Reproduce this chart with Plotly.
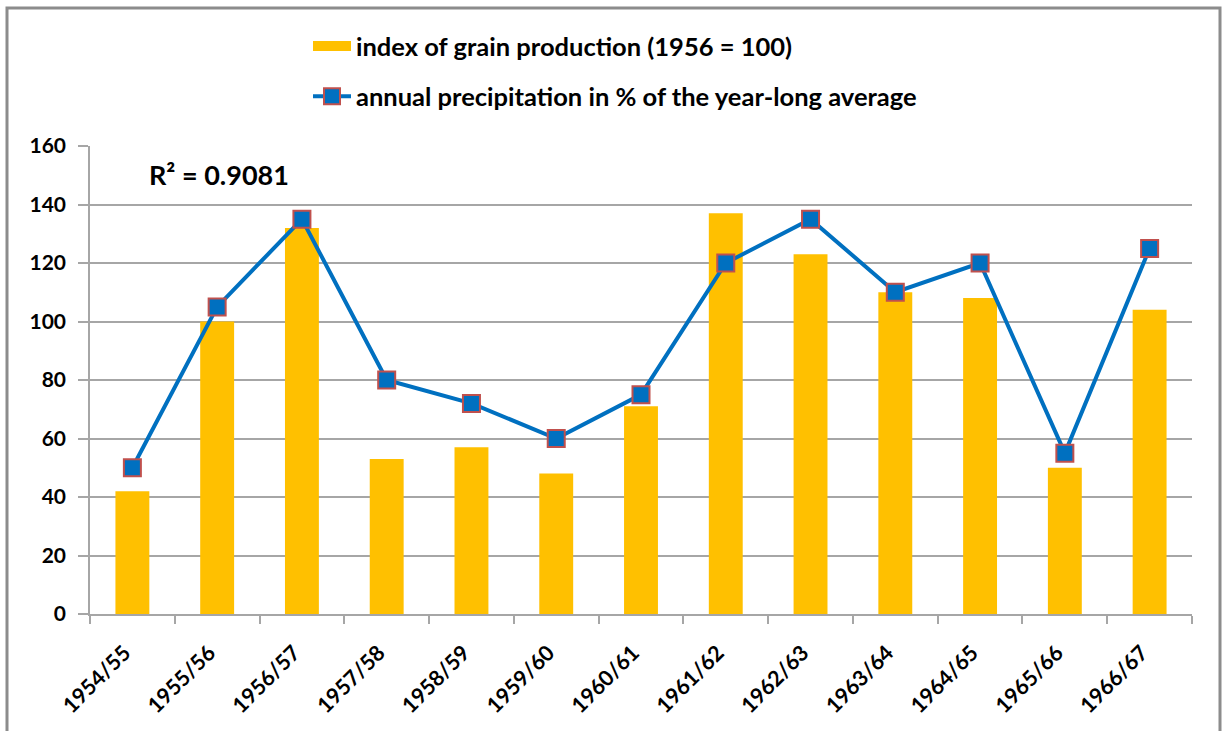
import plotly.graph_objects as go

seasons = ["1954/55", "1955/56", "1956/57", "1957/58", "1958/59", "1959/60", "1960/61",
           "1961/62", "1962/63", "1963/64", "1964/65", "1965/66", "1966/67"]
grain_index = [42, 100, 132, 53, 57, 48, 71, 137, 123, 110, 108, 50, 104]
precipitation = [50, 105, 135, 80, 72, 60, 75, 120, 135, 110, 120, 55, 125]
y_ticks = [0, 20, 40, 60, 80, 100, 120, 140, 160]

FONT = "Lato"
BAR_COLOR = "#FFC000"
BAR_NAME = "index of grain production (1956 = 100)"

# plot-area geometry (pixels) used to place paper-referenced items
L, R, T, B = 90, 1192, 146, 614
PW, PH = R - L, B - T


def px(x):
    return (x - L) / PW


def py(y):
    return (B - y) / PH


fig = go.Figure()
fig.add_trace(go.Bar(
    x=seasons, y=grain_index, name=BAR_NAME,
    marker=dict(color=BAR_COLOR, line=dict(width=0)),
    showlegend=False,
))
# legend-only swatch (wide rectangle like the original legend key)
fig.add_trace(go.Scatter(
    x=[None], y=[None], mode="lines", name=BAR_NAME,
    line=dict(color=BAR_COLOR, width=16),
    legendgroup="a",
))
fig.add_trace(go.Scatter(
    x=seasons, y=precipitation, mode="lines+markers",
    name="annual precipitation in % of the year-long average",
    line=dict(color="#0070C0", width=4),
    marker=dict(symbol="square", size=17, color="#0070C0",
                line=dict(color="#C0504D", width=2)),
    legendgroup="b",
))

fig.add_annotation(
    x=px(147), y=py(174), xref="paper", yref="paper",
    xanchor="left", yanchor="middle", showarrow=False,
    text="<b>R² = 0.9081</b>",
    font=dict(family=FONT, size=27, color="#000000"),
)

# outer chart frame
fig.add_shape(type="rect", xref="paper", yref="paper",
              x0=px(7), x1=px(1220), y0=py(760), y1=py(8),
              line=dict(color="#8C8C8C", width=3), fillcolor="rgba(0,0,0,0)", layer="below")

fig.update_layout(
    width=1223, height=731,
    margin=dict(l=L, r=1223 - R, t=T, b=731 - B, autoexpand=False),
    paper_bgcolor="white", plot_bgcolor="white",
    bargap=0.6,
    font=dict(family=FONT, size=20, color="#000000"),
    showlegend=True,
    legend=dict(
        x=px(308), y=py(23), xanchor="left", yanchor="top",
        orientation="v", tracegroupgap=14,
        font=dict(family=FONT, size=25.5, color="#000000", weight="bold"),
        bgcolor="rgba(0,0,0,0)",
        itemwidth=38,
    ),
    xaxis=dict(
        type="category", range=[-0.5, len(seasons) - 0.5],
        tickangle=-45, tickson="boundaries",
        ticks="outside", ticklen=8, tickcolor="#A6A6A6", tickwidth=1.5,
        showline=True, linecolor="#A6A6A6", linewidth=1.5,
        showgrid=False, automargin=False,
        ticklabelstandoff=16, ticklabelshift=-8,
        tickfont=dict(family=FONT, size=21.5, color="#000000", weight="bold"),
    ),
    yaxis=dict(
        range=[0, 160], tickvals=y_ticks,
        ticks="outside", ticklen=10, tickcolor="#A6A6A6", tickwidth=1.5,
        showline=True, linecolor="#A6A6A6", linewidth=1.5,
        showgrid=True, gridcolor="#A6A6A6", gridwidth=1.5,
        zeroline=False, automargin=False,
        ticklabelstandoff=8,
        tickfont=dict(family=FONT, size=21, color="#000000", weight="bold"),
    ),
)

fig.write_html("out.html", config={"displayModeBar": False},
               post_script="document.body.style.margin='0px';")
